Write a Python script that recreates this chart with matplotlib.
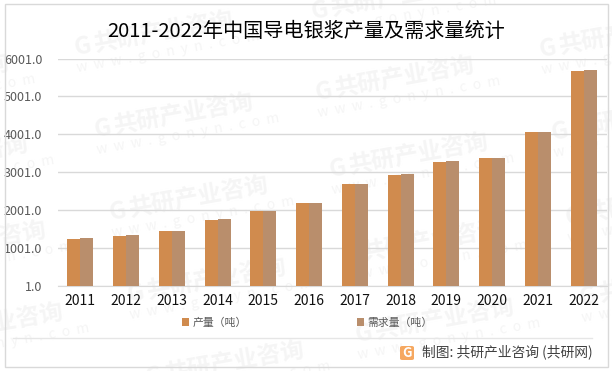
import matplotlib
matplotlib.use("Agg")
import matplotlib.pyplot as plt
from matplotlib.patches import Rectangle, FancyBboxPatch
import numpy as np

plt.rcParams['font.family'] = ['Noto Sans CJK SC', 'DejaVu Sans']

years = ['2011', '2012', '2013', '2014', '2015', '2016', '2017', '2018', '2019', '2020', '2021', '2022']
production = [1237, 1316, 1447, 1737, 1974, 2184, 2684, 2921, 3263, 3368, 4053, 5684]
demand = [1263, 1342, 1447, 1763, 1974, 2184, 2684, 2947, 3289, 3368, 4053, 5710]
yticks = [1, 1001, 2001, 3001, 4001, 5001, 6001]
ytick_labels = ['1.0', '1001.0', '2001.0', '3001.0', '4001.0', '5001.0', '6001.0']
series_names = ['产量（吨）', '需求量（吨）']
title = '2011-2022年中国导电银浆产量及需求量统计'
source = '制图: 共研产业咨询 (共研网)'
wm_main = '共研产业咨询'
wm_sub = 'w  w  w  .  g  o  n  y  n  .  c  o  m'
wm_anchors = [(-149, 91), (-130, 172), (-112, 258), (-95, 340),
              (75, 48), (95, 130), (110, 213), (128, 295), (146, 378),
              (312, 12), (316, 93), (330, 170), (343, 257), (356, 335),
              (540, 50), (552, 133), (566, 218), (580, 298)]

W, H = 612, 371
fig = plt.figure(figsize=(W / 100, H / 100), dpi=100, facecolor='white')

def fx(px):
    return px / W

def fy(py):
    return 1 - py / H

# watermark, drawn beneath the axes
for (x, y) in wm_anchors:
    fig.text(fx(x), fy(y), 'G', fontsize=17, fontweight='bold', color='#f5f5f5',
             rotation=10, rotation_mode='anchor', va='center', ha='left', zorder=-5)
    fig.text(fx(x + 19), fy(y - 3), wm_main, fontsize=17, fontweight='bold', color='#f5f5f5',
             rotation=10, rotation_mode='anchor', va='center', ha='left', zorder=-5)
    fig.text(fx(x + 2), fy(y + 20), wm_sub, fontsize=10, color='#f5f5f5',
             rotation=10, rotation_mode='anchor', va='center', ha='left', zorder=-5)

# outer frame
fig.add_artist(Rectangle((fx(4.5), fy(366.5)), fx(603), 363 / H, transform=fig.transFigure,
                         fill=False, edgecolor='#d9d9d9', linewidth=1.0))

ax = fig.add_axes([fx(57.5), fy(286), fx(549), 227.5 / H])
ax.patch.set_alpha(0)
x = np.arange(len(years))
w = 0.284
ax.bar(x - w / 2, production, w, color='#d08b4e', label=series_names[0], zorder=3)
ax.bar(x + w / 2, demand, w, color='#b98e6c', label=series_names[1], zorder=3)
ax.set_xlim(-0.5, len(years) - 0.5)
ax.set_ylim(1, 6001)
ax.set_yticks(yticks, ytick_labels)
ax.set_xticks(x, years)
ax.tick_params(axis='both', length=0)
ax.tick_params(axis='y', labelsize=9, labelcolor='#595959', pad=11)
ax.tick_params(axis='x', labelsize=10, labelcolor='#111111', pad=6)
ax.grid(axis='y', color='#d9d9d9', linewidth=1.0, zorder=0)
ax.set_axisbelow(True)
for name, sp in ax.spines.items():
    sp.set_visible(name == 'bottom')
ax.spines['bottom'].set_color('#d9d9d9')

leg = ax.legend(loc='center', bbox_to_anchor=(fx(307.5), fy(322.5)), bbox_transform=fig.transFigure,
                ncol=2, frameon=False, fontsize=7.8, labelcolor='#595959',
                handlelength=0.65, handleheight=0.75, handletextpad=0.36, columnspacing=10.1,
                borderpad=0, borderaxespad=0)

fig.text(0.5, fy(31.5), title, fontsize=14.5, fontweight='medium', color='black', ha='center', va='center')

# footer
fig.add_artist(plt.Line2D([fx(13), fx(592)], [fy(337.5), fy(337.5)], transform=fig.transFigure,
                          color='#e6e6e6', linewidth=1.0))
fig.add_artist(FancyBboxPatch((fx(400), fy(360)), fx(14), 14 / H, transform=fig.transFigure,
                              boxstyle='round,pad=0,rounding_size=0.004', facecolor='#f6a860', edgecolor='none'))
fig.text(fx(407), fy(353), 'G', fontsize=9.5, fontweight='bold', color='white', ha='center', va='center')
fig.text(fx(422), fy(352), source, fontsize=9.95, color='#404040', ha='left', va='center')

fig.savefig('out.png', dpi=100)
